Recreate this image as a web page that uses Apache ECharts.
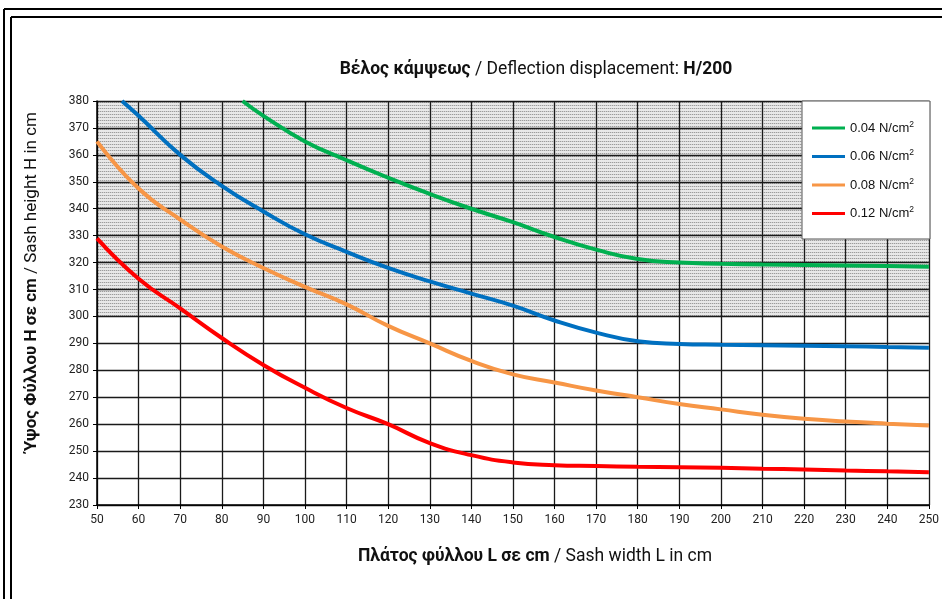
<!DOCTYPE html>
<html>
<head>
<meta charset="utf-8">
<script src="https://cdn.jsdelivr.net/npm/echarts@6/dist/echarts.min.js"></script>
<style>
  html, body { margin: 0; padding: 0; background: #fff; }
  #chart { width: 942px; height: 599px; }
</style>
</head>
<body>
<div id="chart"></div>
<script>
// pressure levels (legend) and curves, [width L, height H]
const loads = ['0.04', '0.06', '0.08', '0.12']
const colors = ['#00b050', '#0070c0', '#f79646', '#ff0000']

const load004 = [[85, 380], [90, 374.5], [100, 365], [110, 358], [120, 351.5], [130, 345.5], [140, 340],
  [150, 335], [160, 329.5], [170, 324.8], [180, 321.3], [190, 320], [200, 319.6], [210, 319.3], [220, 319.1],
  [230, 318.9], [240, 318.7], [250, 318.5]]
const load006 = [[56, 380], [60, 374.5], [70, 360], [80, 348.5], [90, 339], [100, 330.5], [110, 324], [120, 318],
  [130, 313], [140, 308.5], [150, 304], [160, 298.5], [170, 294], [180, 290.8], [190, 289.8], [200, 289.5],
  [210, 289.3], [220, 289.1], [230, 288.9], [240, 288.7], [250, 288.4]]
const load008 = [[50, 365], [60, 347.5], [70, 336], [80, 326], [90, 318], [100, 311], [110, 304.5], [120, 296.5],
  [130, 290], [140, 283.5], [150, 278.5], [160, 275.5], [170, 272.5], [180, 270], [190, 267.5], [200, 265.5],
  [210, 263.5], [220, 262], [230, 261], [240, 260.2], [250, 259.5]]
const load012 = [[50, 329], [60, 314], [70, 303], [80, 292], [90, 282], [100, 273.5], [110, 266], [120, 260],
  [130, 253], [140, 248.5], [150, 245.8], [160, 244.8], [170, 244.5], [180, 244.2], [190, 244], [200, 243.8],
  [210, 243.5], [220, 243.2], [230, 242.8], [240, 242.5], [250, 242.2]]
const curves = [load004, load006, load008, load012]

const xMin = 50, xMax = 250, xStep = 10
const yMin = 230, yMax = 380, yStep = 10
const hatchFrom = 300 // bands above this are hatched

// dotted grey hatch like the excel fill
function makeHatch() {
  const c = document.createElement('canvas')
  c.width = 2
  c.height = 3
  const ctx = c.getContext('2d')
  ctx.fillStyle = '#e8e8e8'
  ctx.fillRect(0, 0, 2, 3)
  ctx.fillStyle = '#9c9c9c'
  ctx.fillRect(0, 0, 1, 1)
  ctx.fillStyle = '#d0d0d0'
  ctx.fillRect(1, 0, 1, 1)
  return c
}
const hatch = { image: makeHatch(), repeat: 'repeat' }
const bandColors = []
for (let v = yMin; v < yMax; v += yStep) {
  bandColors.push(v >= hatchFrom ? hatch : '#ffffff')
}

const font = "Roboto, 'Noto Sans', sans-serif"
const chart = echarts.init(document.getElementById('chart'))

function label(text, x, y, size, rot) {
  return {
    type: 'text', x: x, y: y, rotation: rot || 0,
    style: {
      text: text,
      align: 'center', verticalAlign: 'middle',
      fill: '#111', fontSize: size, fontFamily: font,
      rich: { b: { fontWeight: 'bold', fontSize: size, fontFamily: font, fill: '#111' } }
    }
  }
}

chart.setOption({
  animation: false,
  grid: { left: 97, right: 10, top: 101, bottom: 94 },
  xAxis: {
    type: 'value',
    min: xMin,
    max: xMax,
    interval: xStep,
    axisLine: { lineStyle: { color: '#000', width: 1.5 } },
    axisTick: { length: 4, lineStyle: { color: '#000' } },
    axisLabel: { color: '#222', fontSize: 12, fontFamily: font, margin: 9 },
    splitLine: { lineStyle: { color: '#1a1a1a', width: 1.3 } }
  },
  yAxis: {
    type: 'value',
    min: yMin,
    max: yMax,
    interval: yStep,
    axisLine: { show: true, lineStyle: { color: '#000', width: 1.5 } },
    axisTick: { show: true, length: 4, lineStyle: { color: '#000' } },
    axisLabel: { color: '#222', fontSize: 12, fontFamily: font, margin: 8 },
    splitLine: { lineStyle: { color: '#1a1a1a', width: 1.3 } },
    splitArea: { show: true, areaStyle: { color: bandColors } }
  },
  legend: {
    orient: 'vertical',
    left: 802,
    top: 101,
    padding: [19, 16, 19, 10],
    itemGap: 14,
    itemWidth: 33,
    itemHeight: 3,
    icon: 'rect',
    backgroundColor: '#fff',
    borderColor: '#555',
    borderWidth: 1,
    borderRadius: 0,
    data: loads,
    formatter: name => name + ' N/cm{sup|2}',
    textStyle: {
      color: '#111',
      fontSize: 13,
      fontFamily: "'Liberation Sans', Arial, sans-serif",
      rich: {
        sup: { fontSize: 8.5, verticalAlign: 'top', padding: [0, 0, 7, 0],
          fontFamily: "'Liberation Sans', Arial, sans-serif", color: '#111' }
      }
    }
  },
  graphic: [
    { type: 'line', shape: { x1: 4, y1: 9, x2: 942, y2: 9 }, style: { stroke: '#000', lineWidth: 2 } },
    { type: 'line', shape: { x1: 4, y1: 9, x2: 4, y2: 599 }, style: { stroke: '#000', lineWidth: 2 } },
    { type: 'line', shape: { x1: 11, y1: 17, x2: 942, y2: 17 }, style: { stroke: '#000', lineWidth: 2 } },
    { type: 'line', shape: { x1: 11, y1: 17, x2: 11, y2: 599 }, style: { stroke: '#000', lineWidth: 2 } },
    label('{b|Βέλος κάμψεως} / Deflection displacement: {b|H/200}', 536, 70, 17.5),
    label('{b|Πλάτος φύλλου L σε cm} / Sash width L in cm', 535, 557, 17.5),
    label('{b|Ύψος Φύλλου H σε cm} / Sash height H in cm', 32, 282, 17, Math.PI / 2)
  ],
  series: curves.map((data, i) => ({
    name: loads[i],
    type: 'line',
    smooth: 0.5,
    symbol: 'none',
    data: data,
    lineStyle: { width: 4, color: colors[i] },
    itemStyle: { color: colors[i] }
  }))
})
</script>
</body>
</html>
